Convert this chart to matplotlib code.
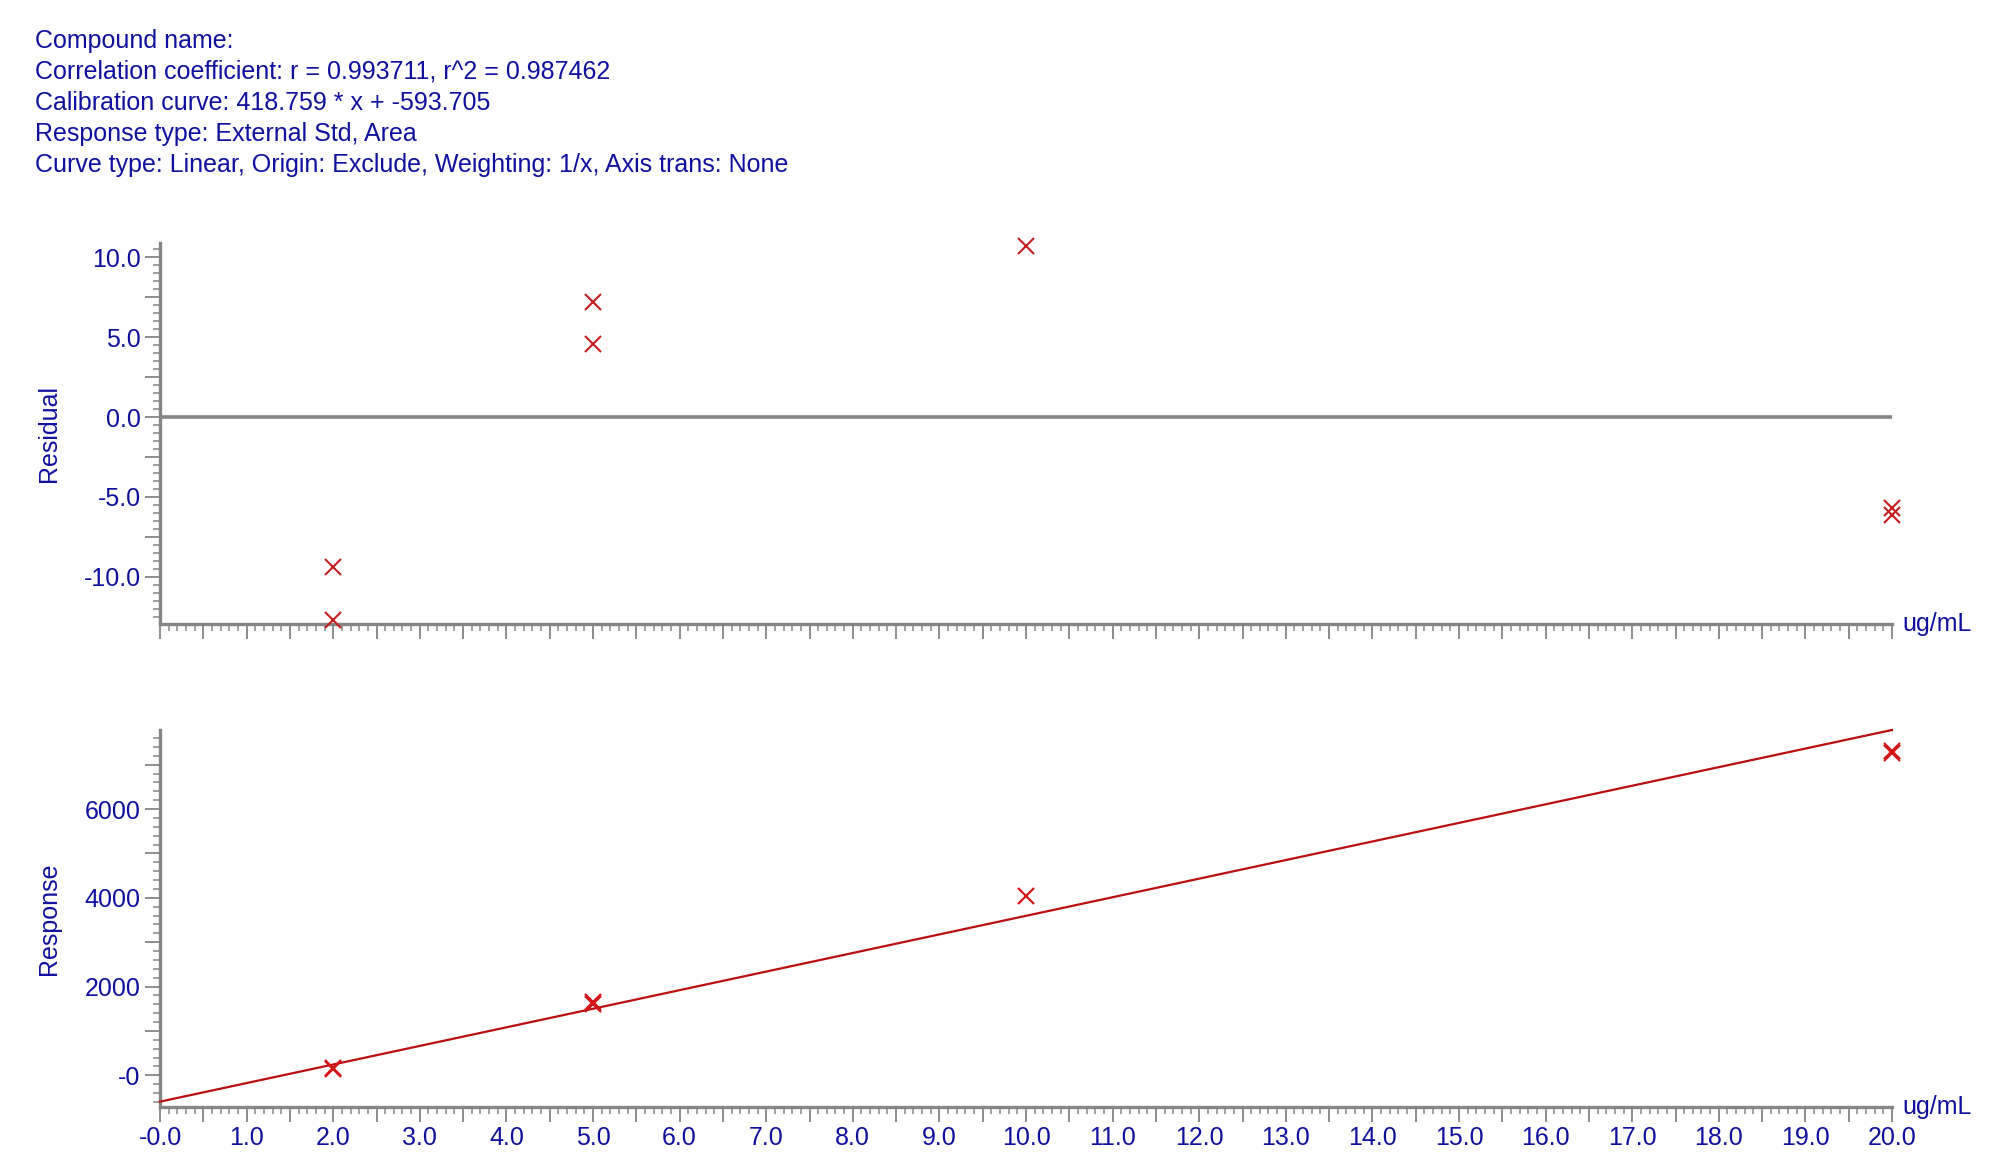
import matplotlib
matplotlib.use("Agg")
import matplotlib.pyplot as plt
from matplotlib.ticker import MultipleLocator, FixedLocator
import numpy as np

plt.rcParams['font.family'] = ['Liberation Sans', 'DejaVu Sans']

# ---- data ----
header_lines = [
    "Compound name:",
    "Correlation coefficient: r = 0.993711, r^2 = 0.987462",
    "Calibration curve: 418.759 * x + -593.705",
    "Response type: External Std, Area",
    "Curve type: Linear, Origin: Exclude, Weighting: 1/x, Axis trans: None",
]
slope = 418.759
intercept = -593.705

conc = [2.0, 2.0, 5.0, 5.0, 10.0, 20.0, 20.0]
residual = [-9.36, -12.7, 7.2, 4.56, 10.72, -5.68, -6.16]
response = [165, 138, 1651, 1596, 4043, 7306, 7266]

x_major = np.arange(0, 20.01, 0.5)
x_tick_labels = ["-0.0", "1.0", "2.0", "3.0", "4.0", "5.0", "6.0", "7.0", "8.0", "9.0",
                 "10.0", "11.0", "12.0", "13.0", "14.0", "15.0", "16.0", "17.0", "18.0",
                 "19.0", "20.0"]
res_ticks = [-10.0, -5.0, 0.0, 5.0, 10.0]
res_tick_labels = ["-10.0", "-5.0", "0.0", "5.0", "10.0"]
resp_ticks = [0, 2000, 4000, 6000]
resp_tick_labels = ["-0", "2000", "4000", "6000"]
x_unit = "ug/mL"

# ---- style ----
W, H = 2000, 1175
BLUE = '#10109e'
GRAY = '#858585'
RED = '#c42020'
FS = 18

fig = plt.figure(figsize=(W / 100, H / 100), dpi=100)

# header text
y_lines = [41, 72, 103, 134, 165]
for t, yy in zip(header_lines, y_lines):
    fig.text(35 / W, 1 - yy / H, t, color=BLUE, fontsize=FS, va='center', ha='left')

L, R = 160, 1892
ax1 = fig.add_axes([L / W, 1 - 624 / H, (R - L) / W, (624 - 243) / H])
ax2 = fig.add_axes([L / W, 1 - 1107 / H, (R - L) / W, (1107 - 730) / H])


def style_axes(ax):
    for s in ['top', 'right']:
        ax.spines[s].set_visible(False)
    for s in ['left', 'bottom']:
        ax.spines[s].set_color(GRAY)
        ax.spines[s].set_linewidth(2.4)
    ax.tick_params(axis='both', which='major', length=11, width=1.3, color=GRAY,
                   labelcolor=BLUE, labelsize=FS, direction='out')
    ax.tick_params(axis='both', which='minor', length=5, width=1.1, color=GRAY,
                   direction='out')
    ax.tick_params(axis='y', which='major', pad=3)
    ax.tick_params(axis='x', which='major', pad=3)
    ax.set_xlim(0, 20)
    ax.xaxis.set_major_locator(FixedLocator(x_major))
    ax.xaxis.set_minor_locator(MultipleLocator(0.1))
    ax.set_facecolor('white')


# ---- residual plot ----
style_axes(ax1)
ax1.set_ylim(-12.96, 10.9)
ax1.axhline(0, color=GRAY, lw=2.6, zorder=2)
ax1.plot(conc, residual, linestyle='none', marker='x', markersize=11.5,
         markeredgewidth=1.5, color=RED, clip_on=False, zorder=5)
res_major = np.arange(-10, 10.01, 2.5)
ax1.yaxis.set_major_locator(FixedLocator(res_major))
ax1.set_yticklabels([res_tick_labels[res_ticks.index(v)] if v in res_ticks else ''
                     for v in res_major])
ax1.yaxis.set_minor_locator(MultipleLocator(0.5))
ax1.set_xticklabels(['' for _ in x_major])
ax1.set_ylabel("Residual", color=BLUE, fontsize=FS)
ax1.yaxis.set_label_coords(-0.057, 0.5)
ax1.text(1.006, 0, x_unit, transform=ax1.transAxes, color=BLUE, fontsize=FS,
         ha='left', va='center')

# ---- response plot ----
style_axes(ax2)
ax2.set_ylim(-714, 7781)
line_x = np.array([0.0, 20.0])
ax2.plot(line_x, slope * line_x + intercept, color='#bb0f0f', lw=1.6, zorder=3,
         clip_on=False)
ax2.plot(conc, response, linestyle='none', marker='x', markersize=11.5,
         markeredgewidth=1.6, color='#d41515', clip_on=False, zorder=5)
resp_major = np.arange(0, 7001, 1000)
ax2.yaxis.set_major_locator(FixedLocator(resp_major))
ax2.set_yticklabels([resp_tick_labels[resp_ticks.index(v)] if v in resp_ticks else ''
                     for v in resp_major])
ax2.yaxis.set_minor_locator(MultipleLocator(200))
xl = []
for v in x_major:
    if abs(v - round(v)) < 1e-9:
        xl.append(x_tick_labels[int(round(v))])
    else:
        xl.append('')
ax2.set_xticklabels(xl)
ax2.set_ylabel("Response", color=BLUE, fontsize=FS)
ax2.yaxis.set_label_coords(-0.057, 0.5)
ax2.text(1.006, 0, x_unit, transform=ax2.transAxes, color=BLUE, fontsize=FS,
         ha='left', va='center')

fig.savefig("out.png", dpi=100, facecolor='white')
